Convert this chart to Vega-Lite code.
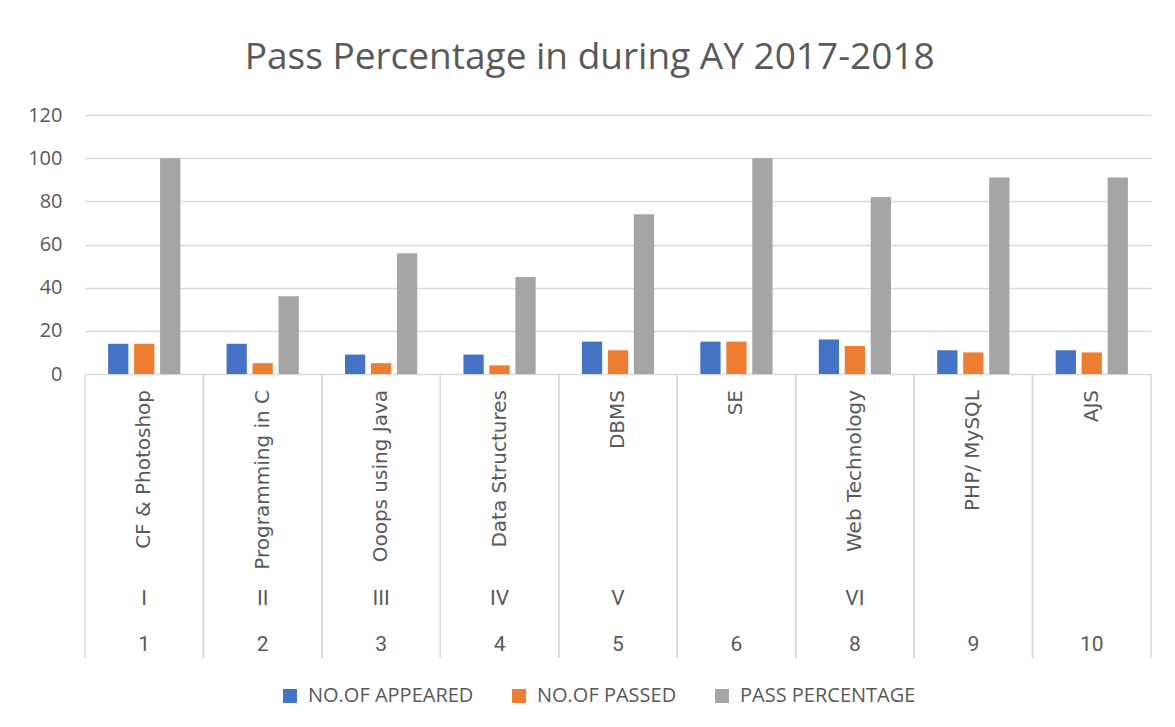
{
  "$schema": "https://vega.github.io/schema/vega-lite/v6.json",
  "padding": {"left": 27, "top": 39, "right": 24, "bottom": 10},
  "background": "white",
  "bounds": "flush",
  "spacing": 0,
  "title": {"text": "Pass Percentage in during AY 2017-2018", "fontSize": 37, "font": "Open Sans", "fontWeight": "normal", "color": "#595959", "anchor": "middle", "offset": 28},
  "datasets": {
    "bars": [
      {"num": "1", "series": "NO.OF APPEARED", "value": 14},
      {"num": "1", "series": "NO.OF PASSED", "value": 14},
      {"num": "1", "series": "PASS PERCENTAGE", "value": 100},
      {"num": "2", "series": "NO.OF APPEARED", "value": 14},
      {"num": "2", "series": "NO.OF PASSED", "value": 5},
      {"num": "2", "series": "PASS PERCENTAGE", "value": 36},
      {"num": "3", "series": "NO.OF APPEARED", "value": 9},
      {"num": "3", "series": "NO.OF PASSED", "value": 5},
      {"num": "3", "series": "PASS PERCENTAGE", "value": 56},
      {"num": "4", "series": "NO.OF APPEARED", "value": 9},
      {"num": "4", "series": "NO.OF PASSED", "value": 4},
      {"num": "4", "series": "PASS PERCENTAGE", "value": 45},
      {"num": "5", "series": "NO.OF APPEARED", "value": 15},
      {"num": "5", "series": "NO.OF PASSED", "value": 11},
      {"num": "5", "series": "PASS PERCENTAGE", "value": 74},
      {"num": "6", "series": "NO.OF APPEARED", "value": 15},
      {"num": "6", "series": "NO.OF PASSED", "value": 15},
      {"num": "6", "series": "PASS PERCENTAGE", "value": 100},
      {"num": "8", "series": "NO.OF APPEARED", "value": 16},
      {"num": "8", "series": "NO.OF PASSED", "value": 13},
      {"num": "8", "series": "PASS PERCENTAGE", "value": 82},
      {"num": "9", "series": "NO.OF APPEARED", "value": 11},
      {"num": "9", "series": "NO.OF PASSED", "value": 10},
      {"num": "9", "series": "PASS PERCENTAGE", "value": 91},
      {"num": "10", "series": "NO.OF APPEARED", "value": 11},
      {"num": "10", "series": "NO.OF PASSED", "value": 10},
      {"num": "10", "series": "PASS PERCENTAGE", "value": 91}
    ],
    "cats": [
      {"num": "1", "subject": "CF & Photoshop", "sem": "I"},
      {"num": "2", "subject": "Programming in C", "sem": "II"},
      {"num": "3", "subject": "Ooops using Java", "sem": "III"},
      {"num": "4", "subject": "Data Structures", "sem": "IV"},
      {"num": "5", "subject": "DBMS", "sem": "V"},
      {"num": "6", "subject": "SE", "sem": ""},
      {"num": "8", "subject": "Web Technology", "sem": "VI"},
      {"num": "9", "subject": "PHP/ MySQL", "sem": ""},
      {"num": "10", "subject": "AJS", "sem": ""}
    ]
  },
  "vconcat": [
    {
      "width": 1066,
      "height": 259,
      "data": {"name": "bars"},
      "mark": {"type": "bar"},
      "encoding": {
        "x": {"field": "num", "type": "ordinal", "sort": null, "scale": {"domain": ["1", "2", "3", "4", "5", "6", "8", "9", "10"], "paddingInner": 0, "paddingOuter": 0}, "axis": null},
        "xOffset": {"field": "series", "type": "nominal", "scale": {"domain": ["NO.OF APPEARED", "NO.OF PASSED", "PASS PERCENTAGE"], "paddingInner": 0.22, "paddingOuter": 0.89}},
        "y": {"field": "value", "type": "quantitative", "scale": {"domain": [0, 120]}, "axis": {"values": [0, 20, 40, 60, 80, 100, 120], "title": null, "domain": false, "ticks": false, "grid": true, "gridColor": "#D9D9D9", "gridWidth": 1.5, "labelFont": "Open Sans", "labelFontSize": 20, "labelColor": "#595959", "labelPadding": 23}},
        "color": {"field": "series", "type": "nominal", "scale": {"domain": ["NO.OF APPEARED", "NO.OF PASSED", "PASS PERCENTAGE"], "range": ["#4472C4", "#ED7D31", "#A5A5A5"]}, "legend": {"title": null, "orient": "none", "legendX": 195, "legendY": 571, "direction": "horizontal", "symbolType": "square", "symbolSize": 196, "symbolStrokeWidth": 0, "labelFont": "Open Sans", "labelFontSize": 20, "labelColor": "#595959", "labelOffset": 8, "columnPadding": 35, "labelLimit": 300}}
      }
    },
    {
      "width": 1066,
      "height": 284,
      "data": {"name": "cats"},
      "layer": [
        {
          "mark": {"type": "rule", "color": "#D9D9D9", "strokeWidth": 1.5},
          "encoding": {"x": {"field": "num", "type": "ordinal", "sort": null, "bandPosition": 0, "scale": {"domain": ["1", "2", "3", "4", "5", "6", "8", "9", "10"], "paddingInner": 0, "paddingOuter": 0}, "axis": null}}
        },
        {
          "mark": {"type": "rule", "color": "#D9D9D9", "strokeWidth": 1.5},
          "encoding": {"x": {"field": "num", "type": "ordinal", "sort": null, "bandPosition": 1, "axis": null}}
        },
        {
          "mark": {"type": "text", "angle": 270, "align": "right", "baseline": "middle", "font": "DejaVu Sans", "fontSize": 20, "color": "#595959"},
          "encoding": {
            "x": {"field": "num", "type": "ordinal", "sort": null, "axis": null},
            "y": {"datum": "subject", "type": "nominal", "scale": {"type": "point", "range": [16, 284], "padding": 0, "align": 0}, "axis": null},
            "text": {"field": "subject"}
          }
        },
        {
          "mark": {"type": "text", "align": "center", "baseline": "middle", "font": "Liberation Sans Narrow, Roboto, Open Sans", "fontSize": 21, "color": "#595959"},
          "encoding": {
            "x": {"field": "num", "type": "ordinal", "sort": null, "axis": null},
            "y": {"datum": "semester", "type": "nominal", "scale": {"type": "point", "range": [225, 284], "padding": 0, "align": 0}, "axis": null},
            "text": {"field": "sem"}
          }
        },
        {
          "mark": {"type": "text", "align": "center", "baseline": "middle", "font": "Liberation Sans Narrow, Roboto, Open Sans", "fontSize": 21, "color": "#595959"},
          "encoding": {
            "x": {"field": "num", "type": "ordinal", "sort": null, "axis": null},
            "y": {"datum": "number", "type": "nominal", "scale": {"type": "point", "range": [271, 284], "padding": 0, "align": 0}, "axis": null},
            "text": {"field": "num"}
          }
        }
      ],
      "resolve": {"scale": {"y": "independent"}}
    }
  ],
  "config": {"view": {"stroke": null}}
}
